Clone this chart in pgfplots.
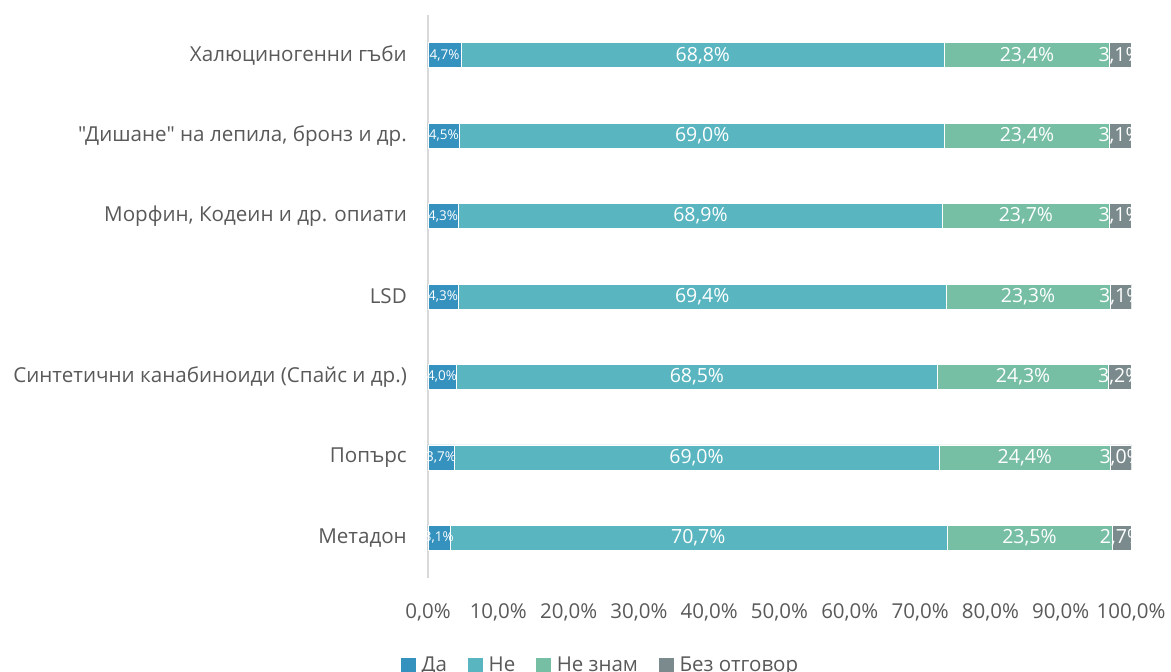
\documentclass[border=0pt]{standalone}
\usepackage{fontspec}
\setmainfont{Open Sans}[Ligatures=TeXOff]
\usepackage{pgfplots}
\pgfplotsset{compat=1.18}
\definecolor{cDa}{HTML}{3592BE}
\definecolor{cNe}{HTML}{59B5C0}
\definecolor{cNz}{HTML}{76BEA4}
\definecolor{cBo}{HTML}{7B8B8D}
\definecolor{txt}{HTML}{595959}
\definecolor{axl}{HTML}{D9D9D9}
\begin{document}
\begin{tikzpicture}[x=1pt,y=1pt]
\path[use as bounding box] (0,0) rectangle (1171,-672);
\begin{axis}[
  at={(428pt,-578pt)}, anchor=south west,
  scale only axis, width=703.7pt, height=563pt,
  xbar stacked, bar width=25pt,
  xmin=0, xmax=100.1, ymin=-0.5, ymax=6.5,
  axis x line*=bottom, axis y line*=left,
  x axis line style={draw=none},
  y axis line style={draw=axl, line width=1.5pt, -},
  major tick length=0pt, tick style={draw=none},
  xtick={0,10,...,100},
  xticklabel={\pgfmathprintnumber[fixed,fixed zerofill,precision=1,use comma]{\tick}\%},
  xticklabel style={inner sep=0pt, anchor=north, yshift=-25pt, font=\fontsize{20.5}{24}\selectfont, text=txt},
  /pgf/number format/assume math mode=true,
  ytick={0,...,6},
  yticklabels={Метадон,Попърс,Синтетични канабиноиди (Спайс и др.),LSD,{Морфин, Кодеин и др. опиати},{"Дишане" на лепила, бронз и др.},Халюциногенни гъби},
  yticklabel style={inner sep=0pt, anchor=east, xshift=-21pt, font=\fontsize{20.6}{24}\selectfont, text=txt},
  nodes near coords={\pgfmathprintnumber[fixed,fixed zerofill,precision=1,use comma]{\pgfplotspointmeta}\%},
  nodes near coords align={center},
  every node near coord/.append style={anchor=center, text=white, inner sep=0pt,
    font=\fontsize{19.5}{20}\selectfont},
  legend style={at={(0.2447,-0.1545)}, anchor=center, legend columns=4, draw=none,
    font=\fontsize{20.5}{24}\selectfont, text=txt,
    /tikz/every odd column/.append style={column sep=3pt},
    /tikz/every even column/.append style={column sep=18pt}},
  legend image code/.code={\fill[#1] (0pt,-8pt) rectangle (16pt,8pt);},
]
\addplot[fill=cDa, draw=white, line width=0.5pt, every node near coord/.append style={font=\fontsize{13.5}{14}\selectfont}]
  coordinates {(3.1,0) (3.7,1) (4.0,2) (4.3,3) (4.3,4) (4.5,5) (4.7,6)};
\addplot[fill=cNe, draw=white, line width=0.5pt]
  coordinates {(70.7,0) (69.0,1) (68.5,2) (69.4,3) (68.9,4) (69.0,5) (68.8,6)};
\addplot[fill=cNz, draw=white, line width=0.5pt]
  coordinates {(23.5,0) (24.4,1) (24.3,2) (23.3,3) (23.7,4) (23.4,5) (23.4,6)};
\addplot[fill=cBo, draw=white, line width=0.5pt]
  coordinates {(2.7,0) (3.0,1) (3.2,2) (3.1,3) (3.1,4) (3.1,5) (3.1,6)};
\legend{Да,Не,Не знам,Без отговор}
\end{axis}
\end{tikzpicture}
\end{document}
